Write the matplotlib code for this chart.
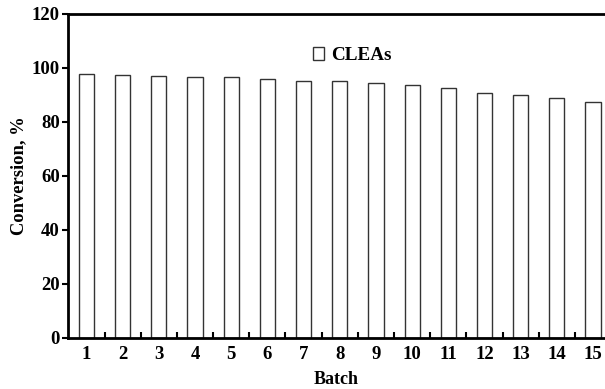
import matplotlib
matplotlib.use("Agg")
import matplotlib.pyplot as plt
from matplotlib.ticker import FixedLocator

batches = list(range(1, 16))
conversion = [97.9, 97.5, 97.0, 96.5, 96.5, 96.0, 95.2, 95.2, 94.3, 93.8, 92.6, 90.6, 90.1, 88.9, 87.3]
y_ticks = [0, 20, 40, 60, 80, 100, 120]
series_label = "CLEAs"

plt.rcParams["font.family"] = ["Liberation Serif", "DejaVu Serif"]
plt.rcParams["font.weight"] = "bold"

fig = plt.figure(figsize=(6.05, 3.89), dpi=100)
ax = fig.add_axes([68 / 605, 1 - 338 / 389, 1 - 68 / 605, (338 - 14) / 389])

ax.bar(batches, conversion, width=0.42, color="white", edgecolor="#333333",
       linewidth=1.0, label=series_label)

ax.set_xlim(0.49, 15.33)
ax.set_ylim(0, 120)
ax.set_yticks(y_ticks)
ax.set_xticks(batches)
ax.xaxis.set_minor_locator(FixedLocator([b + 0.5 for b in batches[:-1]]))

ax.tick_params(axis="x", which="major", length=0, pad=6, labelsize=13.5)
ax.tick_params(axis="x", which="minor", direction="in", length=4, width=1.5)
ax.tick_params(axis="y", direction="out", length=4, width=1.5, labelsize=13.5, pad=2)
for lbl in ax.get_xticklabels() + ax.get_yticklabels():
    lbl.set_fontweight("bold")

for side in ("left", "bottom", "top"):
    ax.spines[side].set_linewidth(2.0)
ax.spines["right"].set_visible(False)

ax.set_xlabel("Batch", fontsize=13, fontweight="bold", labelpad=5.5)
ax.set_ylabel("Conversion, %", fontsize=13.3, fontweight="bold", labelpad=3)

ax.legend(loc="center left", bbox_to_anchor=(0.456, 0.871), frameon=False,
          handlelength=0.6, handleheight=0.6, handletextpad=0.35,
          borderpad=0, borderaxespad=0,
          prop={"family": "Liberation Serif", "weight": "bold", "size": 13.8})

fig.savefig("out.png", dpi=100)
